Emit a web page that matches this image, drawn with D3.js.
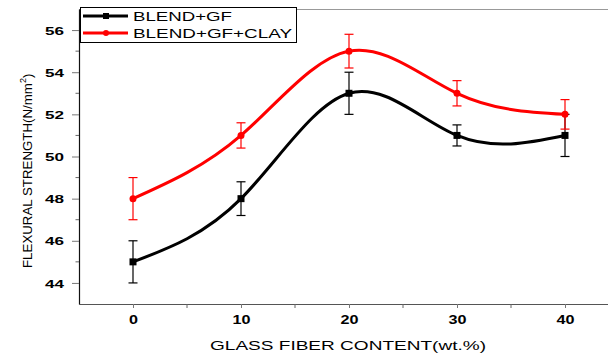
<!DOCTYPE html>
<html>
<head>
<meta charset="utf-8">
<script src="https://cdn.jsdelivr.net/npm/d3@7"></script>
<style>
  html, body { margin: 0; padding: 0; background: #fff; }
  svg { display: block; font-family: "Liberation Sans", Arial, sans-serif; }
</style>
</head>
<body>
<svg id="chart" width="608" height="356"></svg>
<script>
// ---- data ----
var glassFiber = [0, 10, 20, 30, 40];
var seriesNames = ["BLEND+GF", "BLEND+GF+CLAY"];
var blendGF = [45, 48, 53, 51, 51];
var blendGFErr = [1.0, 0.8, 1.0, 0.5, 1.0];
var blendGFClay = [48, 51, 55, 53, 52];
var blendGFClayErr = [1.0, 0.6, 0.8, 0.6, 0.7];
var xTicks = [0, 10, 20, 30, 40];
var xMinor = [5, 15, 25, 35];
var yTicks = [44, 46, 48, 50, 52, 54, 56];
var yMinor = [45, 47, 49, 51, 53, 55];

var svg = d3.select("#chart");
var plotL = 79, plotR = 619, plotT = 9, plotB = 304;

var x = d3.scaleLinear().domain([-5, 45]).range([plotL, plotR]);
var y = d3.scaleLinear().domain([43, 57]).range([plotB, plotT]);

// top frame line
svg.append("line")
    .attr("x1", plotL).attr("x2", 608)
    .attr("y1", plotT + 0.5).attr("y2", plotT + 0.5)
    .attr("stroke", "#999").attr("stroke-width", 1.2);

// ---- axes ----
var xAxis = svg.append("g")
    .attr("transform", "translate(0," + plotB + ")")
    .call(d3.axisBottom(x).tickValues(xTicks).tickSize(4).tickSizeOuter(0).tickPadding(7));
xAxis.append("g").selectAll("line").data(xMinor).join("line")
    .attr("x1", d => x(d)).attr("x2", d => x(d))
    .attr("y1", 0).attr("y2", 4)
    .attr("stroke", "#666");

var yAxis = svg.append("g")
    .attr("transform", "translate(" + plotL + ",0)")
    .call(d3.axisLeft(y).tickValues(yTicks).tickSize(7).tickSizeOuter(0).tickPadding(8));
yAxis.append("g").selectAll("line").data(yMinor).join("line")
    .attr("x1", 0).attr("x2", -3.5)
    .attr("y1", d => y(d)).attr("y2", d => y(d))
    .attr("stroke", "#666");

xAxis.select(".domain").attr("stroke", "#555").attr("stroke-width", 1.2);
yAxis.select(".domain").attr("stroke", "#111").attr("stroke-width", 1.2);
svg.selectAll(".tick line").attr("stroke", "#777");

xAxis.selectAll(".tick text")
    .attr("font-family", "Liberation Sans, Arial, sans-serif")
    .attr("font-size", 12).attr("font-weight", "bold").attr("fill", "#000")
    .attr("dy", "0.71em")
    .attr("textLength", d => String(d).length * 9)
    .attr("lengthAdjust", "spacingAndGlyphs");
yAxis.selectAll(".tick text")
    .attr("font-family", "Liberation Sans, Arial, sans-serif")
    .attr("font-size", 11.5).attr("font-weight", "bold").attr("fill", "#000")
    .attr("x", -15)
    .attr("dy", "0.36em")
    .attr("textLength", 19)
    .attr("lengthAdjust", "spacingAndGlyphs");

// axis titles
svg.append("text")
    .attr("x", 210).attr("y", 350)
    .attr("font-size", 13)
    .attr("textLength", 276).attr("lengthAdjust", "spacingAndGlyphs")
    .text("GLASS FIBER CONTENT(wt.%)");

var yl = svg.append("text")
    .attr("transform", "translate(32,268) rotate(-90)")
    .attr("font-size", 13.3);
yl.append("tspan").text("FLEXURAL STRENGTH(N/mm");
yl.append("tspan").attr("font-size", 9).attr("dy", -6).text("2");
yl.append("tspan").attr("dy", 6).text(")");

// ---- series ----
var series = [
  { name: seriesNames[0], vals: blendGF, err: blendGFErr, color: "#000", marker: "square" },
  { name: seriesNames[1], vals: blendGFClay, err: blendGFClayErr, color: "#ff0000", marker: "circle" }
];

var line = d3.line()
    .x((d, i) => x(glassFiber[i]))
    .y(d => y(d))
    .curve(d3.curveNatural);

series.forEach(function(s) {
  var g = svg.append("g");
  g.append("path")
      .attr("d", line(s.vals))
      .attr("fill", "none")
      .attr("stroke", s.color)
      .attr("stroke-width", 3);

  var eb = g.selectAll(".eb").data(s.vals).join("g");
  eb.append("line")
      .attr("x1", (d, i) => x(glassFiber[i])).attr("x2", (d, i) => x(glassFiber[i]))
      .attr("y1", (d, i) => y(d - s.err[i])).attr("y2", (d, i) => y(d + s.err[i]))
      .attr("stroke", s.color).attr("stroke-width", 1.2);
  [-1, 1].forEach(function(sign) {
    eb.append("line")
        .attr("x1", (d, i) => x(glassFiber[i]) - 4.5).attr("x2", (d, i) => x(glassFiber[i]) + 4.5)
        .attr("y1", (d, i) => y(d + sign * s.err[i])).attr("y2", (d, i) => y(d + sign * s.err[i]))
        .attr("stroke", s.color).attr("stroke-width", 1.2);
  });

  if (s.marker === "square") {
    g.selectAll(".m").data(s.vals).join("rect")
        .attr("x", (d, i) => x(glassFiber[i]) - 3.5)
        .attr("y", d => y(d) - 3.5)
        .attr("width", 7).attr("height", 7)
        .attr("fill", s.color);
  } else {
    g.selectAll(".m").data(s.vals).join("circle")
        .attr("cx", (d, i) => x(glassFiber[i]))
        .attr("cy", d => y(d))
        .attr("r", 3.5)
        .attr("fill", s.color);
  }
});

// ---- legend ----
var legend = svg.append("g");
legend.append("rect")
    .attr("x", 80.5).attr("y", 7.5)
    .attr("width", 216).attr("height", 35)
    .attr("fill", "#fff").attr("stroke", "#000").attr("stroke-width", 1);
var legLens = [99, 159];
series.forEach(function(s, i) {
  var ly = 16 + i * 17;
  legend.append("line")
      .attr("x1", 83).attr("x2", 128)
      .attr("y1", ly).attr("y2", ly)
      .attr("stroke", s.color).attr("stroke-width", 3);
  if (s.marker === "square") {
    legend.append("rect").attr("x", 103).attr("y", ly - 3).attr("width", 6).attr("height", 6).attr("fill", s.color);
  } else {
    legend.append("circle").attr("cx", 106).attr("cy", ly).attr("r", 3).attr("fill", s.color);
  }
  legend.append("text")
      .attr("x", 133).attr("y", ly + 4.8)
      .attr("font-size", 12.5)
      .attr("textLength", legLens[i]).attr("lengthAdjust", "spacingAndGlyphs")
      .text(s.name);
});
</script>
</body>
</html>
